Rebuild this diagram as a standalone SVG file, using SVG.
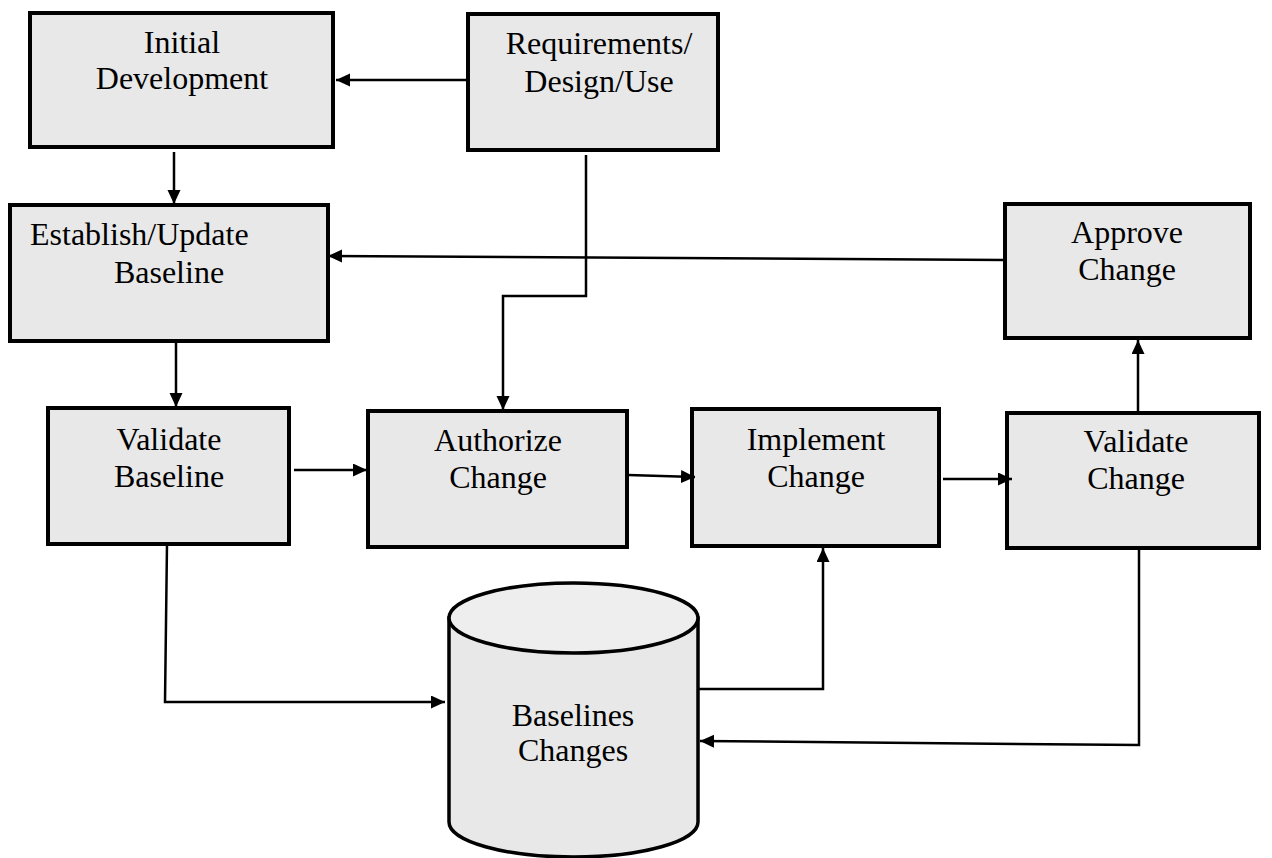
<svg xmlns="http://www.w3.org/2000/svg" width="1272" height="858" viewBox="0 0 1272 858">
  <style>
    .box { fill: #e8e8e8; stroke: #000; stroke-width: 4; }
    .cyl { fill: #e8e8e8; stroke: #000; stroke-width: 3.5; }
    .cyltop { fill: #eeeeee; stroke: #000; stroke-width: 3.5; }
    .lbl { font-family: "Liberation Serif", "Times New Roman", serif; font-size: 32px; fill: #000; text-anchor: middle; }
    .conn { fill: none; stroke: #000; stroke-width: 2.5; }
  </style>
  <defs>
    <marker id="arrow" markerUnits="userSpaceOnUse" markerWidth="16" markerHeight="14" refX="14" refY="6.5" orient="auto">
      <path d="M0,0 L14,6.5 L0,13 Z" fill="#000"/>
    </marker>
  </defs>
  <rect width="1272" height="858" fill="#fff"/>

  <g id="initial-development">
    <rect class="box" x="30" y="13" width="303" height="134"/>
    <text class="lbl" x="182" y="53">Initial</text>
    <text class="lbl" x="182" y="89">Development</text>
  </g>

  <g id="requirements">
    <rect class="box" x="468" y="14" width="250" height="136"/>
    <text class="lbl" x="599" y="54">Requirements/</text>
    <text class="lbl" x="599" y="92">Design/Use</text>
  </g>

  <g id="establish-baseline">
    <rect class="box" x="10" y="205" width="318" height="136"/>
    <text class="lbl" x="30" y="245" style="text-anchor:start">Establish/Update</text>
    <text class="lbl" x="169" y="283">Baseline</text>
  </g>

  <g id="approve-change">
    <rect class="box" x="1005" y="204" width="245" height="134"/>
    <text class="lbl" x="1127" y="243">Approve</text>
    <text class="lbl" x="1127" y="280">Change</text>
  </g>

  <g id="validate-baseline">
    <rect class="box" x="48" y="408" width="241" height="136"/>
    <text class="lbl" x="169" y="450">Validate</text>
    <text class="lbl" x="169" y="487">Baseline</text>
  </g>

  <g id="authorize-change">
    <rect class="box" x="368" y="411" width="259" height="136"/>
    <text class="lbl" x="498" y="451">Authorize</text>
    <text class="lbl" x="498" y="488">Change</text>
  </g>

  <g id="implement-change">
    <rect class="box" x="692" y="409" width="247" height="137"/>
    <text class="lbl" x="816" y="450">Implement</text>
    <text class="lbl" x="816" y="487">Change</text>
  </g>

  <g id="validate-change">
    <rect class="box" x="1007" y="413" width="252" height="135"/>
    <text class="lbl" x="1136" y="452">Validate</text>
    <text class="lbl" x="1136" y="489">Change</text>
  </g>

  <g id="baselines-store">
    <path class="cyl" d="M449,618 L449,822 A124.5,35 0 0 0 698,822 L698,618 Z"/>
    <ellipse class="cyltop" cx="573.5" cy="618" rx="124.5" ry="35"/>
    <text class="lbl" x="573" y="726">Baselines</text>
    <text class="lbl" x="573" y="761">Changes</text>
  </g>

  <g id="connectors">
    <line class="conn" x1="467" y1="80" x2="336" y2="80" marker-end="url(#arrow)"/>
    <line class="conn" x1="174" y1="152" x2="174" y2="204" marker-end="url(#arrow)"/>
    <line class="conn" x1="1005" y1="260" x2="328" y2="256" marker-end="url(#arrow)"/>
    <polyline class="conn" points="586,155 586,296 503,296 503,410" marker-end="url(#arrow)"/>
    <line class="conn" x1="176" y1="342" x2="176" y2="407" marker-end="url(#arrow)"/>
    <line class="conn" x1="294" y1="470" x2="367" y2="470" marker-end="url(#arrow)"/>
    <line class="conn" x1="628" y1="475" x2="695" y2="477" marker-end="url(#arrow)"/>
    <line class="conn" x1="943" y1="479" x2="1012" y2="479" marker-end="url(#arrow)"/>
    <line class="conn" x1="1138" y1="413" x2="1138" y2="340" marker-end="url(#arrow)"/>
    <polyline class="conn" points="167,544 165,702 445,702" marker-end="url(#arrow)"/>
    <polyline class="conn" points="698,689 823,689 823,548" marker-end="url(#arrow)"/>
    <polyline class="conn" points="1139,547 1139,745 700,741" marker-end="url(#arrow)"/>
  </g>
</svg>
